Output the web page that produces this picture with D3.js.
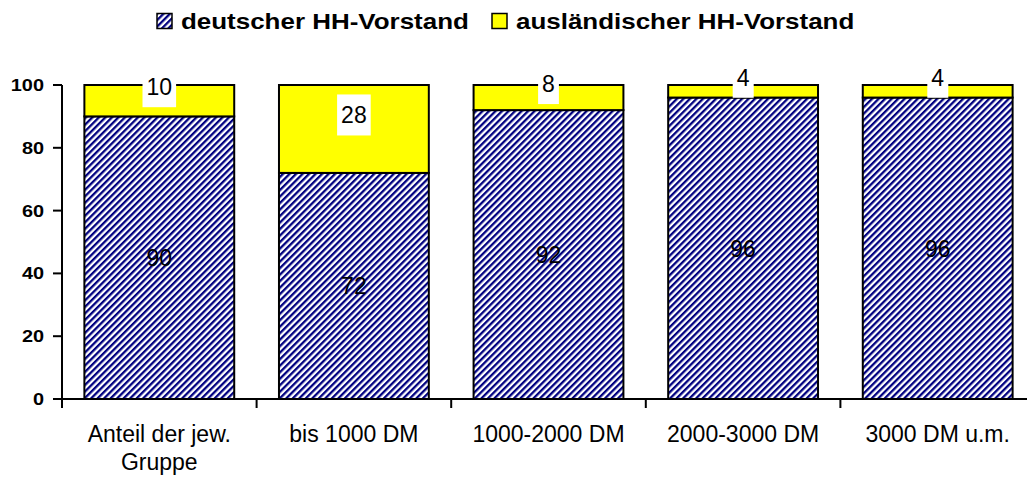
<!DOCTYPE html>
<html>
<head lang="de">
  <meta charset="UTF-8">
  <title>HH-Vorstand nach Einkommen</title>
</head>
<style>
  body { margin: 0; background: #fff; }
  svg text { font-family: "Liberation Sans", Arial, sans-serif; fill: #000; }
</style>
<body>

<svg id="chart"></svg>

<script src="https://cdn.jsdelivr.net/npm/d3@7"></script>
<script>
  // Data
  var categories = [['Anteil der jew.', 'Gruppe'], ['bis 1000 DM'], ['1000-2000 DM'], ['2000-3000 DM'], ['3000 DM u.m.']];
  var deutsch    = [90, 72, 92, 96, 96];
  var auslaend   = [10, 28, 8, 4, 4];
  var seriesNames = ['deutscher HH-Vorstand', 'ausländischer HH-Vorstand'];
  var yTicks     = [0, 20, 40, 60, 80, 100];

  var width = 1027, height = 477;
  var plotLeft = 62, bandW = 194.6;

  var svg = d3.select('#chart').attr('width', width).attr('height', height);

  var x = d3.scaleBand()
    .domain(d3.range(categories.length))
    .range([plotLeft, plotLeft + bandW * categories.length])
    .paddingInner(0.23).paddingOuter(0.115);

  var y = d3.scaleLinear().domain([0, 100]).range([399, 85]);

  // hatch pattern
  var defs = svg.append('defs');
  var pat = defs.append('pattern')
    .attr('id', 'hatch')
    .attr('patternUnits', 'userSpaceOnUse')
    .attr('width', 4.6).attr('height', 4.6)
    .attr('patternTransform', 'rotate(45)');
  pat.append('rect').attr('width', 4.6).attr('height', 4.6).attr('fill', '#fff');
  pat.append('rect').attr('width', 2.3).attr('height', 4.6).attr('fill', '#000080');

  defs.append('clipPath').attr('id', 'plotclip')
    .append('rect').attr('x', 0).attr('y', 84).attr('width', width).attr('height', height);

  // stretched bold text helper
  function stext(parent, tx, ty, str, size, k, anchor, weight) {
    return parent.append('text')
      .attr('transform', 'translate(' + tx + ',' + ty + ') scale(' + k + ',1)')
      .attr('text-anchor', anchor)
      .style('font-size', size + 'px')
      .style('font-weight', weight)
      .text(str);
  }

  // bars
  var g = svg.selectAll('g.bar')
    .data(categories)
    .enter().append('g').attr('class', 'bar');

  g.append('rect')
    .attr('x', function (d, i) { return x(i); })
    .attr('width', x.bandwidth())
    .attr('y', function (d, i) { return y(deutsch[i]); })
    .attr('height', function (d, i) { return y(0) - y(deutsch[i]); })
    .attr('fill', 'url(#hatch)')
    .attr('stroke', '#000').attr('stroke-width', 2);

  g.append('rect')
    .attr('x', function (d, i) { return x(i); })
    .attr('width', x.bandwidth())
    .attr('y', function (d, i) { return y(deutsch[i] + auslaend[i]); })
    .attr('height', function (d, i) { return y(deutsch[i]) - y(deutsch[i] + auslaend[i]); })
    .attr('fill', '#ffff00')
    .attr('stroke', '#000').attr('stroke-width', 2);

  // labels inside hatched part
  g.append('text')
    .attr('x', function (d, i) { return x(i) + x.bandwidth() / 2; })
    .attr('y', function (d, i) { return (y(0) + y(deutsch[i])) / 2; })
    .attr('dy', '0.36em')
    .attr('text-anchor', 'middle')
    .style('font-size', '23px')
    .text(function (d, i) { return deutsch[i]; });

  // labels on yellow part, white box
  g.each(function (d, i) {
    var cx = x(i) + x.bandwidth() / 2;
    var mid = (y(deutsch[i]) + y(deutsch[i] + auslaend[i])) / 2 - 14;
    var t = d3.select(this).append('text')
      .attr('x', cx).attr('y', mid).attr('dy', '0.36em')
      .attr('text-anchor', 'middle')
      .style('font-size', '23px')
      .text(auslaend[i]);
    var bb = t.node().getBBox();
    d3.select(this).insert('rect', function () { return t.node(); })
      .attr('x', bb.x - 4).attr('width', bb.width + 8)
      .attr('y', mid - 20.5).attr('height', 41)
      .attr('fill', '#fff')
      .attr('clip-path', 'url(#plotclip)');
  });

  // y axis
  svg.append('line')
    .attr('x1', plotLeft).attr('x2', plotLeft)
    .attr('y1', y(100)).attr('y2', y(0) + 9)
    .attr('stroke', '#000').attr('stroke-width', 2);
  svg.selectAll('line.ytick').data(yTicks).enter().append('line')
    .attr('x1', plotLeft - 9).attr('x2', plotLeft)
    .attr('y1', function (d) { return y(d); }).attr('y2', function (d) { return y(d); })
    .attr('stroke', '#000').attr('stroke-width', 2);
  yTicks.forEach(function (v) {
    stext(svg, 44, y(v) + 6, v, 17, 1.17, 'end', 'bold');
  });

  // x axis
  svg.append('line')
    .attr('x1', plotLeft).attr('x2', width)
    .attr('y1', y(0)).attr('y2', y(0))
    .attr('stroke', '#000').attr('stroke-width', 2);
  svg.selectAll('line.xtick').data(d3.range(1, categories.length)).enter().append('line')
    .attr('x1', function (i) { return plotLeft + bandW * i; })
    .attr('x2', function (i) { return plotLeft + bandW * i; })
    .attr('y1', y(0)).attr('y2', y(0) + 9)
    .attr('stroke', '#000').attr('stroke-width', 2);

  categories.forEach(function (lines, i) {
    var t = svg.append('text')
      .attr('text-anchor', 'middle')
      .style('font-size', '23px');
    lines.forEach(function (s, j) {
      t.append('tspan')
        .attr('x', x(i) + x.bandwidth() / 2)
        .attr('y', 442 + j * 28)
        .text(s);
    });
  });

  // legend
  var fills = ['url(#hatch)', '#ffff00'];
  var legX = [181, 516];
  seriesNames.forEach(function (name, i) {
    svg.append('rect')
      .attr('x', legX[i] - 24).attr('y', 13.5)
      .attr('width', 15).attr('height', 15)
      .attr('fill', fills[i])
      .attr('stroke', '#000').attr('stroke-width', 1.5);
    stext(svg, legX[i], 29, name, 22, 1.18, 'start', 'bold');
  });
</script>
</body>
</html>
